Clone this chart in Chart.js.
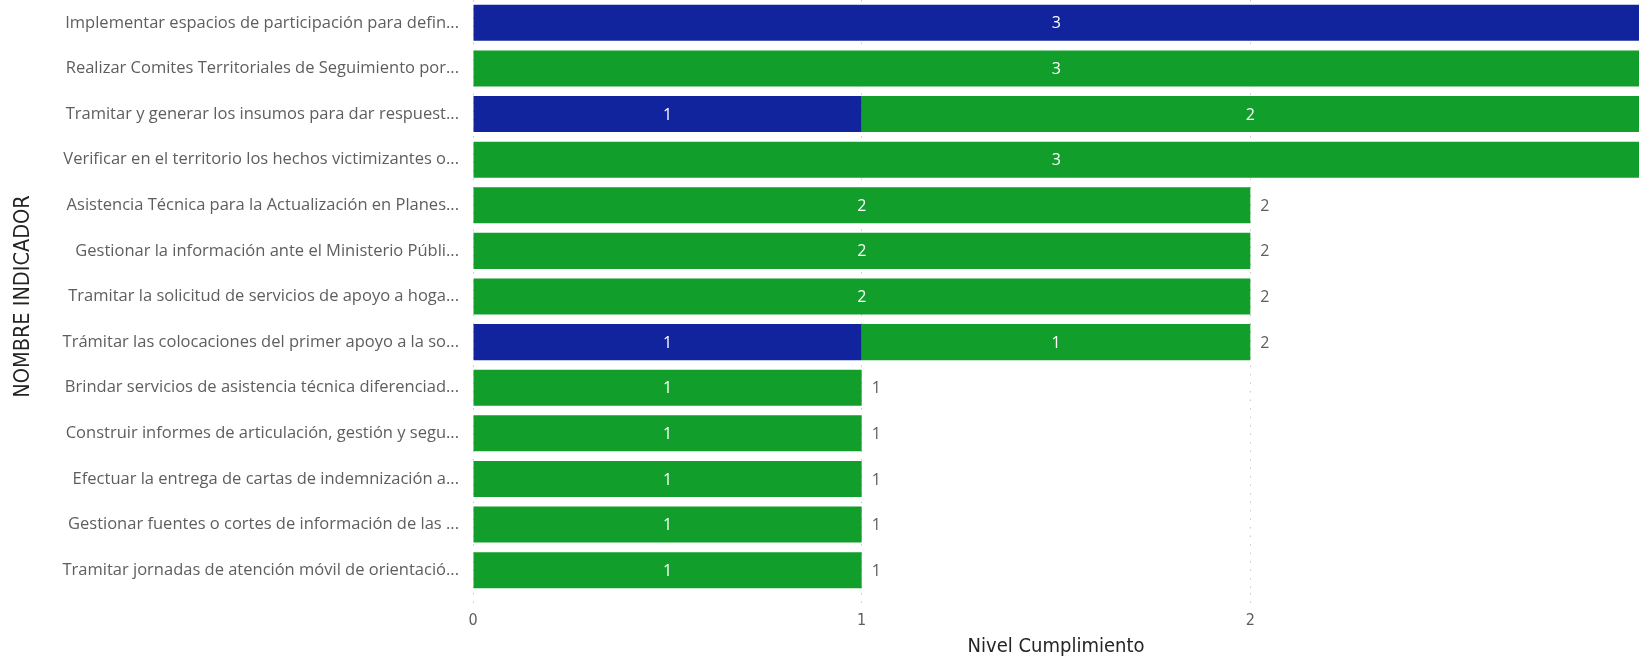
<!DOCTYPE html>
<html>
<head>
<meta charset="utf-8">
<script src="https://cdn.jsdelivr.net/npm/chart.js@4/dist/chart.umd.min.js"></script>
<style>
  html, body { margin: 0; padding: 0; background: #ffffff; }
  #wrap { position: relative; width: 1639px; height: 660px; }
</style>
</head>
<body>
<div id="wrap"><canvas id="c" width="1639" height="660"></canvas></div>
<script>
const categories = [
  "Implementar espacios de participación para defin...",
  "Realizar Comites Territoriales de Seguimiento por...",
  "Tramitar y generar los insumos para dar respuest...",
  "Verificar en el territorio los hechos victimizantes o...",
  "Asistencia Técnica para la Actualización en Planes...",
  "Gestionar la información ante el Ministerio Públi...",
  "Tramitar la solicitud de servicios de apoyo a hoga...",
  "Trámitar las colocaciones del primer apoyo a la so...",
  "Brindar servicios de asistencia técnica diferenciad...",
  "Construir informes de articulación, gestión y segu...",
  "Efectuar la entrega de cartas de indemnización a...",
  "Gestionar fuentes o cortes de información de las ...",
  "Tramitar jornadas de atención móvil de orientació..."
];
const seriesBlue = [3, 0, 1, 0, 0, 0, 0, 1, 0, 0, 0, 0, 0];
const seriesGreen = [0, 3, 2, 3, 2, 2, 2, 1, 1, 1, 1, 1, 1];
const xTicks = [0, 1, 2];
const xMax = 3;
const xTitle = "Nivel Cumplimiento";
const yTitle = "NOMBRE INDICADOR";

const totals = categories.map((_, i) => seriesBlue[i] + seriesGreen[i]);

const labelFont = '"Segoe UI", "Open Sans", sans-serif';
const dinFont = '"DejaVu Sans Condensed", "DejaVu Sans", sans-serif';

const labelPlugin = {
  id: 'barLabels',
  afterDatasetsDraw(chart) {
    const ctx = chart.ctx;
    ctx.save();
    ctx.font = '16px ' + labelFont;
    ctx.textBaseline = 'middle';
    chart.data.datasets.forEach((ds, di) => {
      const meta = chart.getDatasetMeta(di);
      meta.data.forEach((el, i) => {
        const v = ds.data[i];
        if (!v) return;
        const p = el.getProps(['x', 'y', 'base'], true);
        ctx.fillStyle = '#ffffff';
        ctx.textAlign = 'center';
        ctx.fillText(String(v), (p.x + p.base) / 2, p.y + 1);
      });
    });
    const xs = chart.scales.x;
    const ys = chart.scales.y;
    ctx.fillStyle = '#605E5C';
    ctx.textAlign = 'left';
    totals.forEach((t, i) => {
      if (t >= xMax) return;
      ctx.fillText(String(t), xs.getPixelForValue(t) + 10, ys.getPixelForValue(i) + 1);
    });
    ctx.restore();
  }
};

new Chart(document.getElementById('c'), {
  type: 'bar',
  data: {
    labels: categories,
    datasets: [
      { label: 'Azul', data: seriesBlue, backgroundColor: '#12239E', borderWidth: 0,
        categoryPercentage: 1, barPercentage: 0.79 },
      { label: 'Verde', data: seriesGreen, backgroundColor: '#129E2B', borderWidth: 0,
        categoryPercentage: 1, barPercentage: 0.79 }
    ]
  },
  options: {
    indexAxis: 'y',
    responsive: false,
    animation: false,
    layout: { padding: 0 },
    plugins: { legend: { display: false }, tooltip: { enabled: false } },
    scales: {
      x: {
        stacked: true,
        min: 0,
        max: xMax,
        afterBuildTicks(scale) {
          scale.ticks = xTicks.map(v => ({ value: v }));
        },
        afterFit(scale) {
          scale.height = 67;
          scale.paddingLeft = 0; scale.paddingRight = 0;
        },
        border: { display: false, dash: [1.5, 7] },
        grid: {
          color: '#C8C6C4',
          lineWidth: 1,
          tickLength: 13,
          tickBorderDash: [1.5, 7],
          drawOnChartArea: true
        },
        ticks: {
          padding: 5,
          color: '#605E5C',
          font: { family: dinFont, size: 16 }
        },
        title: {
          display: true,
          text: xTitle,
          color: '#252423',
          font: { family: dinFont, size: 20 },
          padding: { top: 0, bottom: 1 }
        }
      },
      y: {
        stacked: true,
        afterFit(scale) {
          scale.width = 473;
          scale.paddingTop = 0; scale.paddingBottom = 0;
        },
        border: { display: false },
        grid: { display: false },
        ticks: {
          padding: 6,
          color: '#605E5C',
          font: { family: labelFont, size: 16.5 }
        },
        title: {
          display: true,
          text: yTitle,
          color: '#252423',
          font: { family: dinFont, size: 21.5 },
          padding: { top: 11, bottom: 0 }
        }
      }
    }
  },
  plugins: [labelPlugin]
});
</script>
</body>
</html>
